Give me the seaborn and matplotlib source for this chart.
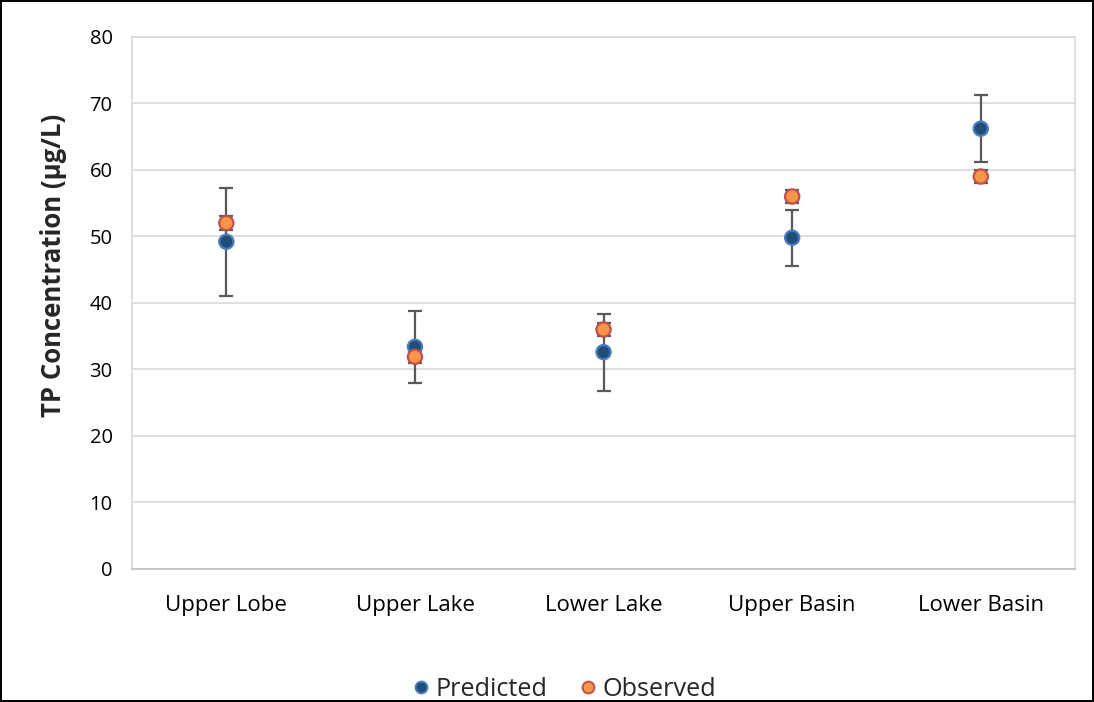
import numpy as np
import pandas as pd
import matplotlib.pyplot as plt
import seaborn as sns

# data
sites = ["Upper Lobe", "Upper Lake", "Lower Lake", "Upper Basin", "Lower Basin"]
predicted = [49.2, 33.4, 32.6, 49.8, 66.2]
predicted_err = [8.1, 5.45, 5.8, 4.2, 5.0]
observed = [52.0, 31.9, 36.0, 56.0, 59.0]
observed_err = [1.0, 1.0, 1.0, 1.0, 1.0]

sns.set_style("white")
plt.rcParams["font.family"] = ["Open Sans", "DejaVu Sans"]

df = pd.DataFrame({
    "site": sites * 2,
    "value": predicted + observed,
    "series": ["Predicted"] * 5 + ["Observed"] * 5,
})

fig = plt.figure(figsize=(10.94, 7.02), dpi=100, edgecolor="black", linewidth=1.5)
ax = fig.add_axes([0.1207, 0.1895, 0.862, 0.758])

xpos = np.arange(len(sites))
ax.errorbar(xpos, predicted, yerr=predicted_err, fmt="none", ecolor="#595959",
            elinewidth=1.6, capsize=5, capthick=1.6, zorder=2)
ax.errorbar(xpos, observed, yerr=observed_err, fmt="none", ecolor="#595959",
            elinewidth=1.6, capsize=5, capthick=1.6, zorder=2)

sns.scatterplot(data=df, x="site", y="value", hue="series", ax=ax,
                palette={"Predicted": "#1F4E79", "Observed": "#F79646"},
                s=105, linewidth=1.6, zorder=3, legend=False)
# edge colours per series
coll = ax.collections[-1]
coll.set_edgecolors(["#4A7EBB"] * 5 + ["#C0504D"] * 5)

ax.set_xlim(-0.5, 4.5)
ax.set_ylim(0, 80)
ax.set_yticks(range(0, 81, 10))
ax.grid(axis="y", color="#D9D9D9", linewidth=1.2)
ax.set_axisbelow(True)
for s in ax.spines.values():
    s.set_color("#D9D9D9")
    s.set_linewidth(1.2)
ax.spines["bottom"].set_color("#BFBFBF")
ax.tick_params(axis="y", length=0, labelsize=14.5, pad=14, colors="#000000")
ax.tick_params(axis="x", length=0, labelsize=16, pad=19, colors="#000000")
ax.set_xlabel("")
ax.set_ylabel("TP Concentration (µg/L)", fontsize=18.5, fontweight="bold")
ax.yaxis.set_label_coords(-0.069, 0.571)

handles = [
    plt.Line2D([], [], marker="o", linestyle="", markersize=8.5,
               markerfacecolor="#1F4E79", markeredgecolor="#4A7EBB", markeredgewidth=1.4),
    plt.Line2D([], [], marker="o", linestyle="", markersize=8.5,
               markerfacecolor="#F79646", markeredgecolor="#C0504D", markeredgewidth=1.4),
]
fig.legend(handles, ["Predicted", "Observed"], loc="center", bbox_to_anchor=(0.516, 0.018),
           ncol=2, frameon=False, fontsize=18.2, handlelength=0.65, handletextpad=0.25,
           columnspacing=1.3)

fig.savefig("out.png", dpi=100, edgecolor=fig.get_edgecolor())
